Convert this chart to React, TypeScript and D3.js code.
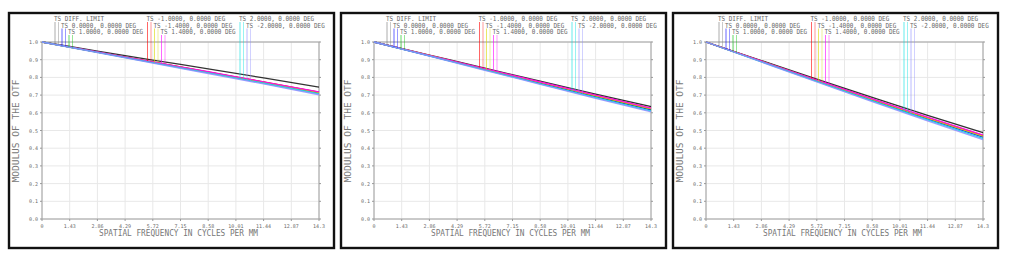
import React from 'react';
import * as d3 from 'd3';

// sampled frequencies (cycles/mm) where the curves were read
const freqs = [0, 2.86, 5.72, 8.58, 11.44, 14.3];

const fieldLabels = [
  'TS DIFF. LIMIT',
  'TS 0.0000, 0.0000 DEG',
  'TS 1.0000, 0.0000 DEG',
  'TS -1.0000, 0.0000 DEG',
  'TS -1.4000, 0.0000 DEG',
  'TS 1.4000, 0.0000 DEG',
  'TS 2.0000, 0.0000 DEG',
  'TS -2.0000, 0.0000 DEG',
];

const xTicks = [0, 1.43, 2.86, 4.29, 5.72, 7.15, 8.58, 10.01, 11.44, 12.87, 14.3];
const xTickLabels = ['0', '1.43', '2.86', '4.29', '5.72', '7.15', '8.58', '10.01', '11.44', '12.87', '14.3'];
const yTicks = [0, 0.1, 0.2, 0.3, 0.4, 0.5, 0.6, 0.7, 0.8, 0.9, 1.0];

// MTF values per field, one array per field, for each of the three plots
const panelA = [
  [1, 0.949, 0.898, 0.848, 0.797, 0.745],
  [1, 0.943, 0.885, 0.829, 0.772, 0.713],
  [1, 0.943, 0.886, 0.830, 0.773, 0.715],
  [1, 0.943, 0.887, 0.831, 0.775, 0.717],
  [1, 0.943, 0.886, 0.829, 0.772, 0.714],
  [1, 0.944, 0.887, 0.832, 0.775, 0.718],
  [1, 0.941, 0.883, 0.825, 0.767, 0.707],
  [1, 0.940, 0.881, 0.822, 0.763, 0.702],
];

const panelB = [
  [1, 0.926, 0.852, 0.779, 0.706, 0.635],
  [1, 0.922, 0.845, 0.768, 0.692, 0.617],
  [1, 0.923, 0.846, 0.771, 0.695, 0.621],
  [1, 0.924, 0.848, 0.773, 0.698, 0.625],
  [1, 0.924, 0.847, 0.772, 0.696, 0.623],
  [1, 0.924, 0.849, 0.774, 0.700, 0.627],
  [1, 0.921, 0.842, 0.764, 0.686, 0.610],
  [1, 0.920, 0.840, 0.761, 0.682, 0.605],
];

const panelC = [
  [1, 0.895, 0.790, 0.687, 0.586, 0.488],
  [1, 0.890, 0.780, 0.672, 0.566, 0.463],
  [1, 0.891, 0.783, 0.676, 0.572, 0.470],
  [1, 0.892, 0.783, 0.677, 0.573, 0.472],
  [1, 0.891, 0.782, 0.675, 0.570, 0.468],
  [1, 0.892, 0.785, 0.679, 0.576, 0.475],
  [1, 0.888, 0.777, 0.667, 0.560, 0.455],
  [1, 0.887, 0.774, 0.663, 0.554, 0.448],
];

const colors = ['#000000', '#0000ff', '#00c000', '#ff0000', '#d8d800', '#ff00ff', '#00dede', '#8c8cff'];

const MONO = '"DejaVu Sans Mono", monospace';
const TXT = '#6a6a6a';

const valueAt = (vals: number[], f: number) => {
  for (let i = 1; i < freqs.length; i++) {
    if (f <= freqs[i]) {
      const t = (f - freqs[i - 1]) / (freqs[i] - freqs[i - 1]);
      return vals[i - 1] + t * (vals[i] - vals[i - 1]);
    }
  }
  return vals[vals.length - 1];
};

const Panel = ({ x0, series }: { x0: number; series: number[][] }) => {
  const left = x0 + 34;
  const right = left + 277;
  const top = 42;
  const bottom = 219;

  const x = d3.scaleLinear().domain([0, 14.3]).range([left, right]);
  const y = d3.scaleLinear().domain([0, 1]).range([bottom, top]);

  const line = d3
    .line<number>()
    .x((_, i) => x(freqs[i]))
    .y(d => y(d))
    .curve(d3.curveMonotoneX);

  // legend: three columns, three rows, each row shifted right
  const colX = [12, 104.5, 197];
  const rowBase = [21, 27.5, 34];

  return (
    <g>
      <rect x={x0 + 1} y={13} width={325} height={235} fill="#fff" stroke="#111" strokeWidth={2.4} />

      {/* grid */}
      {xTicks.map((t, i) => (
        <line key={'gx' + i} x1={x(t)} x2={x(t)} y1={top} y2={bottom} stroke="#e8e8e8" strokeWidth={1} />
      ))}
      {yTicks.map((t, i) => (
        <line key={'gy' + i} x1={left} x2={right} y1={y(t)} y2={y(t)} stroke="#e8e8e8" strokeWidth={1} />
      ))}
      <rect x={left} y={top} width={right - left} height={bottom - top} fill="none" stroke="#a0a0a0" strokeWidth={1} />

      {/* ticks + labels */}
      {yTicks.map((t, i) => (
        <g key={'ty' + i}>
          <line x1={left - 2} x2={left} y1={y(t)} y2={y(t)} stroke="#999" />
          <line x1={right} x2={right + 2} y1={y(t)} y2={y(t)} stroke="#999" />
          <text x={left - 4} y={y(t) + 2} fontSize={5} fontFamily={MONO} fill={TXT} textAnchor="end">
            {t.toFixed(1)}
          </text>
        </g>
      ))}
      {xTicks.map((t, i) => (
        <g key={'tx' + i}>
          <line x1={x(t)} x2={x(t)} y1={bottom} y2={bottom + 2} stroke="#999" />
          <text x={x(t)} y={bottom + 9} fontSize={5} fontFamily={MONO} fill={TXT} textAnchor="middle">
            {xTickLabels[i]}
          </text>
        </g>
      ))}

      {/* curves */}
      {series.map((vals, i) => (
        <path key={'c' + i} d={line(vals) ?? ''} fill="none" stroke={colors[i]} strokeWidth={1.3} strokeOpacity={i === 0 ? 0.8 : 0.85} />
      ))}

      {/* legend labels and drop lines */}
      {series.map((vals, i) => {
        const col = Math.floor(i / 3);
        const row = i % 3;
        const tx = left + colX[col] + row * 7;
        const label = fieldLabels[i];
        const drops = [tx + 1, tx + 4.5];
        return (
          <g key={'lg' + i}>
            <text x={tx} y={rowBase[row]} fontSize={7} fontFamily={MONO} fill={TXT}
              textLength={label.length * 3.58} lengthAdjust="spacingAndGlyphs">
              {label}
            </text>
            {drops.map((dx, k) => (
              <line key={k} x1={dx} x2={dx} y1={rowBase[row] + 1}
                y2={y(valueAt(vals, x.invert(dx)))}
                stroke={i === 0 ? '#777' : colors[i]} strokeOpacity={k === 0 ? 0.6 : 0.4} strokeWidth={1} />
            ))}
          </g>
        );
      })}

      {/* axis titles */}
      <text x={(left + right) / 2 - 2} y={236} fontSize={8} fontFamily={MONO} fill="#777" textAnchor="middle"
        textLength={159} lengthAdjust="spacingAndGlyphs">
        SPATIAL FREQUENCY IN CYCLES PER MM
      </text>
      <text transform={`translate(${x0 + 11},${131}) rotate(-90)`} fontSize={8} fontFamily={MONO} fill="#777"
        textAnchor="middle" textLength={103} lengthAdjust="spacingAndGlyphs">
        MODULUS OF THE OTF
      </text>
    </g>
  );
};

export default function App() {
  const panels = [panelA, panelB, panelC];
  return (
    <svg width={1011} height={259} style={{ position: 'absolute', left: 0, top: 0, background: '#fff' }}>
      <rect width={1011} height={259} fill="#fff" />
      {panels.map((s, i) => (
        <Panel key={i} x0={8 + i * 332} series={s} />
      ))}
    </svg>
  );
}
